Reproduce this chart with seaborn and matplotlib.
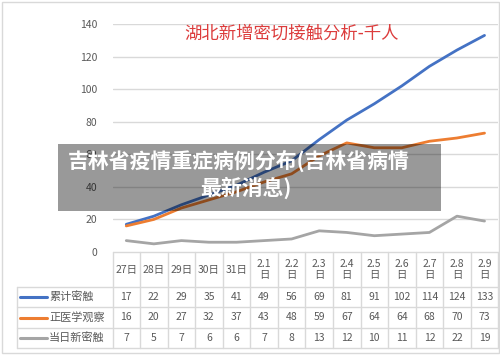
import matplotlib
matplotlib.use("Agg")
import matplotlib.pyplot as plt
import seaborn as sns
import pandas as pd
from matplotlib.patches import Rectangle
from matplotlib.lines import Line2D

categories = ["27日", "28日", "29日", "30日", "31日", "2.1\n日", "2.2\n日", "2.3\n日",
              "2.4\n日", "2.5\n日", "2.6\n日", "2.7\n日", "2.8\n日", "2.9\n日"]
series_names = ["累计密触", "正医学观察", "当日新密触"]
cumulative = [17, 22, 29, 35, 41, 49, 56, 69, 81, 91, 102, 114, 124, 133]
observation = [16, 20, 27, 32, 37, 43, 48, 59, 67, 64, 64, 68, 70, 73]
daily_new = [7, 5, 7, 6, 6, 7, 8, 13, 12, 10, 11, 12, 22, 19]
y_ticks = [0, 20, 40, 60, 80, 100, 120, 140]
chart_title = "湖北新增密切接触分析-千人"
overlay_line1 = "吉林省疫情重症病例分布(吉林省病情"
overlay_line2 = "最新消息)"

colors = ["#4472C4", "#ED7D31", "#A5A5A5"]

sns.set_theme(style="white")
plt.rcParams['font.family'] = ['Noto Sans CJK SC', 'DejaVu Sans']

W, H = 500, 355
fig = plt.figure(figsize=(W / 100, H / 100), dpi=100)
fig.patch.set_facecolor("white")

def fx(px):
    return px / W

def fy(py):
    return 1 - py / H

left_px, right_px, top_px, bot_px = 112.5, 498.3, 24, 252
ax = fig.add_axes([fx(left_px), fy(bot_px), fx(right_px - left_px), (bot_px - top_px) / H])

n = len(categories)
rows = []
for name, vals in zip(series_names, [cumulative, observation, daily_new]):
    for i, v in enumerate(vals):
        rows.append({"x": i, "value": v, "series": name})
df = pd.DataFrame(rows)

sns.lineplot(data=df, x="x", y="value", hue="series", palette=colors,
             linewidth=2.0, ax=ax, legend=False)

ax.set_xlim(-0.5, n - 0.5)
ax.set_ylim(0, 140)
ax.set_yticks(y_ticks)
ax.set_yticklabels([str(t) for t in y_ticks], color="#595959", fontsize=7.5)
ax.tick_params(axis="y", length=0, pad=11)
ax.set_xticks([])
ax.set_xlabel("")
ax.set_ylabel("")
for s in ax.spines.values():
    s.set_visible(False)
for t in y_ticks[1:]:
    ax.axhline(t, color="#D9D9D9", linewidth=1.0, zorder=0)
ax.patch.set_alpha(0)

# title
fig.text(fx(292), fy(34), chart_title, color="#DC3C3C", fontsize=12.5,
         ha="center", va="center")

# data table
col_w = (right_px - left_px) / n
row_lines = [252, 287, 307, 328, 348]
leg_left = 17
grid_c = "#D9D9D9"
fig.add_artist(Line2D([fx(left_px), fx(right_px)], [fy(252), fy(252)],
                      color=grid_c, lw=1, transform=fig.transFigure))
for yy in row_lines[1:]:
    fig.add_artist(Line2D([fx(leg_left), fx(right_px)], [fy(yy), fy(yy)],
                          color=grid_c, lw=1, transform=fig.transFigure))
for i in range(n + 1):
    xx = left_px + i * col_w
    fig.add_artist(Line2D([fx(xx), fx(xx)], [fy(252), fy(348)],
                          color=grid_c, lw=1, transform=fig.transFigure))
fig.add_artist(Line2D([fx(leg_left), fx(leg_left)], [fy(287), fy(348)],
                      color=grid_c, lw=1, transform=fig.transFigure))

for i, c in enumerate(categories):
    cx = left_px + (i + 0.5) * col_w
    fig.text(fx(cx), fy(269.5), c, ha="center", va="center", fontsize=7.5,
             color="#595959", linespacing=1.1)

for r, (name, vals, col) in enumerate(zip(series_names, [cumulative, observation, daily_new], colors)):
    cy = (row_lines[r + 1] + row_lines[r + 2]) / 2
    fig.add_artist(Line2D([fx(20), fx(47)], [fy(cy), fy(cy)], color=col, lw=2.2,
                          transform=fig.transFigure))
    fig.text(fx(49), fy(cy), name, ha="left", va="center", fontsize=8,
             color="#595959")
    for i, v in enumerate(vals):
        cx = left_px + (i + 0.5) * col_w
        fig.text(fx(cx), fy(cy), str(v), ha="center", va="center", fontsize=7.5,
                 color="#595959")

# outer border
fig.add_artist(Rectangle((fx(1.5), fy(353)), fx(497), (353 - 1.5) / H,
                         fill=False, edgecolor="#D9D9D9", lw=1,
                         transform=fig.transFigure))

# overlay banner
fig.add_artist(Rectangle((fx(58), fy(211)), fx(441 - 58), (211 - 144) / H,
                         facecolor="black", alpha=0.4, edgecolor="none",
                         transform=fig.transFigure, zorder=10))
fig.text(fx(239), fy(161), overlay_line1, ha="center", va="center", fontsize=15,
         color="white", fontweight="bold", zorder=11)
fig.text(fx(246), fy(188), overlay_line2, ha="center", va="center", fontsize=15,
         color="white", fontweight="bold", zorder=11)

fig.savefig("out.png", dpi=100)
